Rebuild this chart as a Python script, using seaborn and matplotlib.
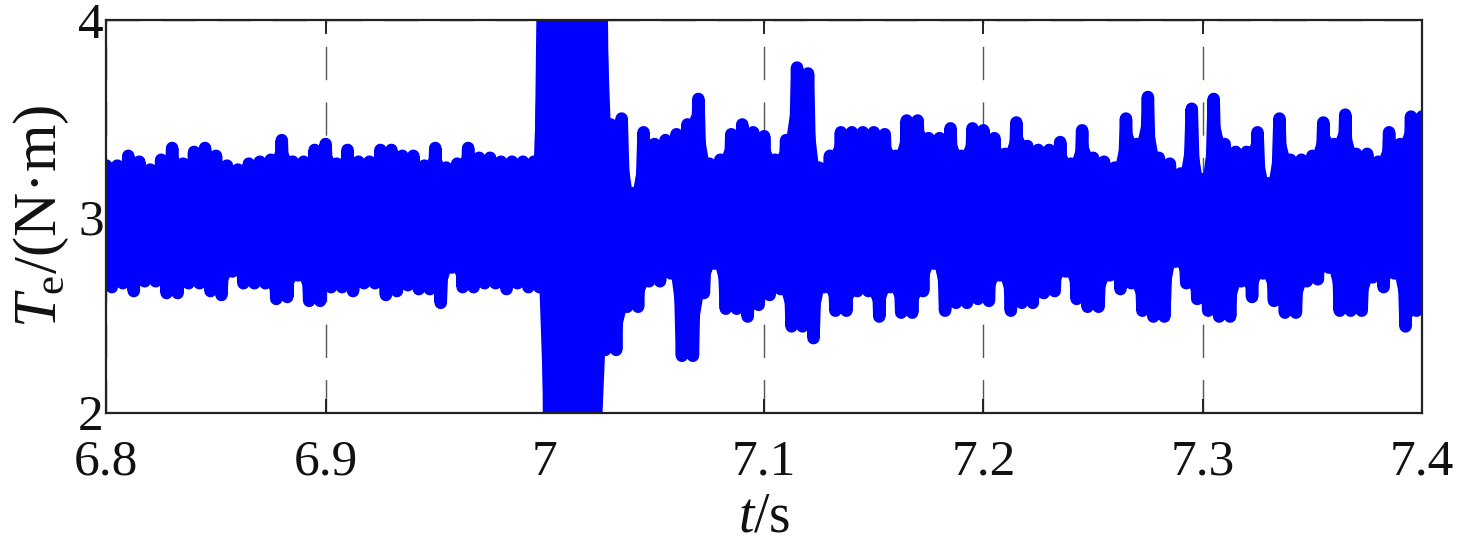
import numpy as np
import pandas as pd
import matplotlib
matplotlib.use("Agg")
import matplotlib.pyplot as plt
import seaborn as sns

# sample grid: one peak every 5 ms, one trough half-way between peaks
t_start, t_step = 6.8, 0.005

# upper peaks of Te (N*m), 6.800 ... 7.400 s
te_peaks = [
    3.26, 3.26, 3.31, 3.28, 3.24, 3.29, 3.35, 3.27, 3.33, 3.35,
    3.31, 3.26, 3.24, 3.27, 3.28, 3.29, 3.39, 3.28, 3.28, 3.34,
    3.37, 3.27, 3.34, 3.28, 3.28, 3.34, 3.34, 3.31, 3.31, 3.26,
    3.35, 3.25, 3.27, 3.35, 3.30, 3.30, 3.28, 3.28, 3.28, 3.28,
    5.00, 5.00, 5.00, 5.00, 5.00, 5.00, 3.47, 3.50, 3.12, 3.43,
    3.37, 3.39, 3.42, 3.47, 3.60, 3.27, 3.29, 3.42, 3.47, 3.43,
    3.41, 3.29, 3.39, 3.76, 3.73, 3.25, 3.31, 3.43, 3.43, 3.43,
    3.43, 3.42, 3.31, 3.49, 3.49, 3.40, 3.40, 3.45, 3.31, 3.45,
    3.44, 3.40, 3.32, 3.48, 3.36, 3.34, 3.34, 3.38, 3.27, 3.44,
    3.30, 3.28, 3.25, 3.50, 3.37, 3.61, 3.30, 3.27, 3.22, 3.55,
    3.19, 3.60, 3.37, 3.33, 3.33, 3.43, 3.17, 3.50, 3.29, 3.29,
    3.31, 3.48, 3.37, 3.52, 3.32, 3.32, 3.28, 3.43, 3.37, 3.51,
    3.51,
]

# lower troughs of Te (N*m), 6.8025 ... 7.3975 s
te_troughs = [
    2.64, 2.66, 2.62, 2.67, 2.67, 2.61, 2.61, 2.66, 2.66, 2.62,
    2.60, 2.72, 2.66, 2.66, 2.66, 2.58, 2.59, 2.70, 2.57, 2.57,
    2.64, 2.64, 2.62, 2.66, 2.66, 2.60, 2.62, 2.65, 2.63, 2.63,
    2.56, 2.74, 2.64, 2.64, 2.66, 2.66, 2.63, 2.66, 2.64, 2.64,
    1.00, 1.00, 1.00, 1.00, 1.00, 2.32, 2.32, 2.54, 2.54, 2.67,
    2.67, 2.71, 2.29, 2.29, 2.61, 2.76, 2.53, 2.53, 2.49, 2.55,
    2.60, 2.63, 2.44, 2.44, 2.38, 2.64, 2.52, 2.52, 2.62, 2.62,
    2.49, 2.64, 2.51, 2.51, 2.62, 2.76, 2.52, 2.56, 2.56, 2.58,
    2.57, 2.70, 2.52, 2.56, 2.56, 2.61, 2.62, 2.72, 2.58, 2.54,
    2.54, 2.70, 2.63, 2.66, 2.52, 2.49, 2.49, 2.77, 2.66, 2.58,
    2.52, 2.49, 2.49, 2.67, 2.59, 2.71, 2.57, 2.51, 2.51, 2.67,
    2.68, 2.74, 2.52, 2.52, 2.52, 2.69, 2.64, 2.71, 2.44, 2.52,
]

x_ticks = [6.8, 6.9, 7.0, 7.1, 7.2, 7.3, 7.4]
x_tick_labels = ["6.8", "6.9", "7", "7.1", "7.2", "7.3", "7.4"]
y_ticks = [2, 3, 4]

# interleave peaks and troughs into one trace
n = len(te_peaks)
t_peaks = np.round(t_start + t_step * np.arange(n), 4)
t_troughs = t_peaks[:-1] + t_step / 2
t = np.empty(2 * n - 1)
te = np.empty(2 * n - 1)
t[0::2], t[1::2] = t_peaks, t_troughs
te[0::2], te[1::2] = te_peaks, te_troughs
df = pd.DataFrame({"t": t, "Te": te})

sns.set_style("ticks")
plt.rcParams["font.family"] = ["Liberation Serif", "DejaVu Serif"]
plt.rcParams["mathtext.fontset"] = "custom"
plt.rcParams["mathtext.rm"] = "Liberation Serif"
plt.rcParams["mathtext.it"] = "Liberation Serif:italic"

fig = plt.figure(figsize=(14.69, 5.42), dpi=100)
ax = fig.add_axes([0.0724, 0.2386, 0.8956, 0.7236])

blue = (0, 0, 1)
# the oscillation is far denser than the pixels, so the band between
# peaks and troughs reads as solid colour
ax.fill(np.concatenate([t_peaks, t_troughs[::-1]]),
        np.concatenate([te_peaks, te_troughs[::-1]]),
        color=blue, linewidth=0, zorder=2)
sns.lineplot(data=df, x="t", y="Te", sort=False, estimator=None,
             color=blue, linewidth=9, ax=ax, zorder=3,
             solid_capstyle="round", solid_joinstyle="round")

ax.set_xlim(6.8, 7.4)
ax.set_ylim(2, 4)
ax.set_xticks(x_ticks)
ax.set_xticklabels(x_tick_labels)
ax.set_yticks(y_ticks)
ax.set_axisbelow(True)
ax.grid(True, color="#555555", linewidth=1.0, linestyle=(0, (24, 16)))

for sp in ax.spines.values():
    sp.set_visible(True)
    sp.set_linewidth(1.6)
    sp.set_color("#222222")
    sp.set_zorder(5)

ax.tick_params(direction="in", length=10, width=1.4, color="#222222",
               top=True, right=True, labelsize=37, labelcolor="#111111")
ax.tick_params(axis="x", pad=19)
ax.tick_params(axis="y", pad=2)

ax.set_xlabel(r"$t$/s", fontsize=40, labelpad=4, color="#111111")
ax.set_ylabel(r"$T_\mathrm{e}$/(N·m)", fontsize=44, labelpad=5, color="#111111")

fig.savefig("out.png", dpi=100)
